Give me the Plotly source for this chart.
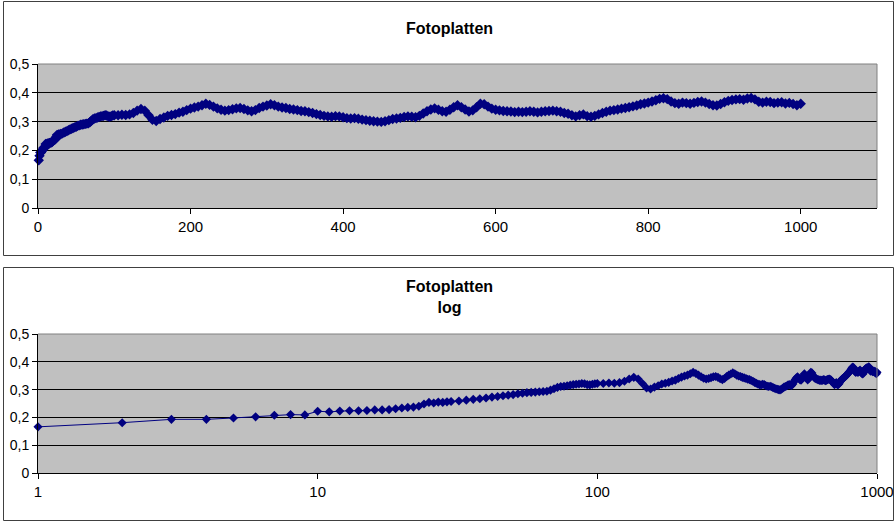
import plotly.graph_objects as go

# ---- data ----
x_vals = list(range(1, 31)) + list(range(32, 101, 2)) + list(range(105, 1001, 5))

y_first = [0.166, 0.181, 0.193, 0.193, 0.198, 0.202, 0.208, 0.210, 0.209, 0.222,
           0.220, 0.223, 0.224, 0.224, 0.225, 0.227, 0.227, 0.228, 0.231, 0.234,
           0.236, 0.237, 0.240, 0.248, 0.254, 0.252, 0.255, 0.254, 0.256, 0.257]
y_mid = [0.259, 0.262, 0.265, 0.267, 0.270, 0.273, 0.275, 0.278, 0.280, 0.282,
         0.285, 0.287, 0.289, 0.290, 0.291, 0.292, 0.293, 0.294, 0.298, 0.303,
         0.308, 0.311, 0.312, 0.314, 0.316, 0.318, 0.319, 0.320, 0.322, 0.321,
         0.318, 0.317, 0.319, 0.321, 0.322]
y_rest = [
    0.322, 0.324, 0.323, 0.325, 0.330, 0.338, 0.344, 0.338, 0.322, 0.306, 0.302, 0.309, 0.314, 0.320, 0.323, 0.326, 0.331, 0.334, 0.340, 0.345,
    0.349, 0.352, 0.357, 0.362, 0.358, 0.352, 0.346, 0.341, 0.338, 0.340, 0.343, 0.346, 0.347, 0.344, 0.339, 0.336, 0.340, 0.347, 0.352, 0.356,
    0.360, 0.357, 0.352, 0.349, 0.347, 0.344, 0.342, 0.340, 0.337, 0.336, 0.333, 0.330, 0.326, 0.323, 0.320, 0.318, 0.317, 0.319, 0.318, 0.315,
    0.312, 0.311, 0.312, 0.310, 0.307, 0.305, 0.303, 0.301, 0.300, 0.299, 0.301, 0.305, 0.309, 0.311, 0.313, 0.316, 0.318, 0.317, 0.315, 0.320,
    0.328, 0.336, 0.342, 0.346, 0.341, 0.336, 0.334, 0.341, 0.350, 0.357, 0.350, 0.342, 0.335, 0.339, 0.350, 0.362, 0.360, 0.352, 0.345, 0.341,
    0.339, 0.337, 0.336, 0.335, 0.333, 0.334, 0.333, 0.334, 0.336, 0.334, 0.332, 0.334, 0.336, 0.337, 0.338, 0.336, 0.334, 0.330, 0.327, 0.322,
    0.318, 0.322, 0.325, 0.319, 0.317, 0.320, 0.325, 0.330, 0.334, 0.338, 0.340, 0.342, 0.345, 0.347, 0.350, 0.353, 0.356, 0.360, 0.363, 0.366,
    0.370, 0.374, 0.379, 0.381, 0.378, 0.370, 0.364, 0.362, 0.366, 0.364, 0.362, 0.365, 0.368, 0.370, 0.366, 0.361, 0.357, 0.356, 0.361, 0.367,
    0.372, 0.375, 0.377, 0.378, 0.376, 0.380, 0.382, 0.377, 0.369, 0.366, 0.369, 0.368, 0.364, 0.366, 0.367, 0.363, 0.365, 0.361, 0.357, 0.362,
]
y_vals = y_first + y_mid + y_rest

y_tickvals = [0, 0.1, 0.2, 0.3, 0.4, 0.5]
y_ticktext = ["0", "0,1", "0,2", "0,3", "0,4", "0,5"]
x_lin_ticks = [0, 200, 400, 600, 800, 1000]
x_log_ticks = [1, 10, 100, 1000]
title_top = "<b>Fotoplatten</b>"
title_bottom = "<b>Fotoplatten</b><br><b>log</b>"

# ---- styling ----
W, H = 896, 522
FONT = "Liberation Sans, Arial, sans-serif"
NAVY = "#000080"
PLOT_BG = "#C0C0C0"


def px_x(p):
    return p / W


def px_y(p):
    return 1 - p / H


fig = go.Figure()
fig.add_trace(go.Scatter(x=x_vals, y=y_vals, mode="lines+markers",
                         line=dict(color=NAVY, width=3),
                         marker=dict(symbol="diamond", size=8, color=NAVY, line=dict(width=0)),
                         xaxis="x", yaxis="y", showlegend=False, cliponaxis=False))
fig.add_trace(go.Scatter(x=x_vals, y=y_vals, mode="lines+markers",
                         line=dict(color=NAVY, width=1),
                         marker=dict(symbol="diamond", size=7, color=NAVY, line=dict(width=0)),
                         xaxis="x2", yaxis="y2", showlegend=False, cliponaxis=False))

common_y = dict(range=[0, 0.5], tickvals=y_tickvals, ticktext=y_ticktext,
                showgrid=True, gridcolor="black", gridwidth=1,
                showline=True, linecolor="black", linewidth=1,
                ticks="outside", ticklen=5, tickcolor="black",
                tickfont=dict(family=FONT, size=14, color="black"),
                zeroline=False, fixedrange=True, automargin=False)
common_x = dict(showgrid=False, showline=True, linecolor="black", linewidth=1,
                ticks="outside", ticklen=5, tickcolor="black",
                tickfont=dict(family=FONT, size=15, color="black"),
                zeroline=False, fixedrange=True, automargin=False)

fig.update_layout(
    width=W, height=H, autosize=False,
    margin=dict(l=0, r=0, t=0, b=0, pad=0, autoexpand=False),
    showlegend=False,
    paper_bgcolor="white", plot_bgcolor=PLOT_BG,
    font=dict(family=FONT, color="black"),
    xaxis=dict(domain=[px_x(38), px_x(877)], range=[0, 1100],
               tickvals=x_lin_ticks, anchor="y", **common_x),
    yaxis=dict(domain=[px_y(208), px_y(64)], anchor="x", **common_y),
    xaxis2=dict(domain=[px_x(38), px_x(877)], type="log", range=[0, 3],
                tickvals=x_log_ticks, ticktext=[str(v) for v in x_log_ticks],
                anchor="y2", **common_x),
    yaxis2=dict(domain=[px_y(473), px_y(334)], anchor="x2", **common_y),
)

# titles
fig.add_annotation(text=title_top, xref="paper", yref="paper",
                   x=px_x(449), y=px_y(18), showarrow=False,
                   font=dict(family=FONT, size=16, color="black"))
fig.add_annotation(text=title_bottom, xref="paper", yref="paper",
                   x=px_x(449), y=px_y(297), showarrow=False,
                   font=dict(family=FONT, size=16, color="black"))

shapes = []
# outer chart borders
shapes.append(dict(type="rect", xref="paper", yref="paper",
                   x0=px_x(3.5), x1=px_x(893.5), y0=px_y(255.5), y1=px_y(1.5),
                   line=dict(color="#404040", width=1), layer="below"))
shapes.append(dict(type="rect", xref="paper", yref="paper",
                   x0=px_x(3.5), x1=px_x(893.5), y0=px_y(520.5), y1=px_y(267.5),
                   line=dict(color="#404040", width=1), layer="below"))
# gray plot-area frame (top & right edges)
for xr, yr in (("x domain", "y domain"), ("x2 domain", "y2 domain")):
    shapes.append(dict(type="line", xref=xr, yref=yr, x0=0, x1=1, y0=1, y1=1,
                       line=dict(color="#808080", width=1), layer="above"))
    shapes.append(dict(type="line", xref=xr, yref=yr, x0=1, x1=1, y0=0, y1=1,
                       line=dict(color="#808080", width=1), layer="above"))
fig.update_layout(shapes=shapes)

fig.write_html("out.html")
